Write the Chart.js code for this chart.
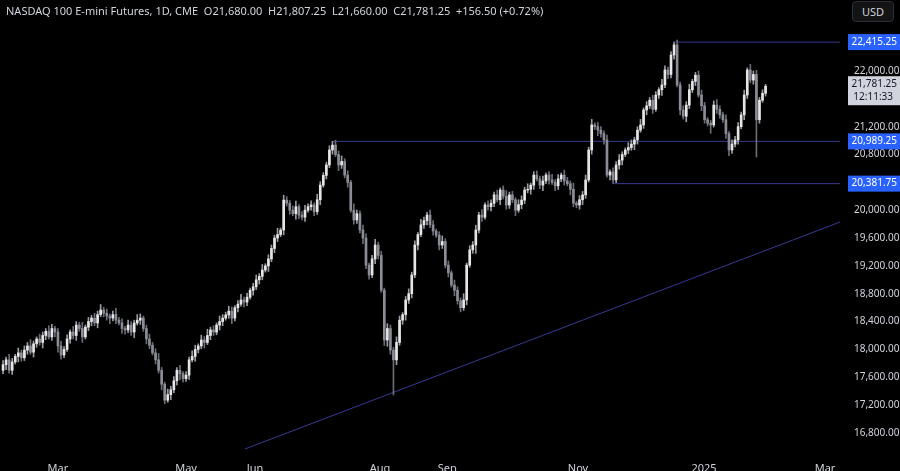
<!DOCTYPE html>
<html><head><meta charset="utf-8">
<script src="https://cdn.jsdelivr.net/npm/chart.js@4.4.1/dist/chart.umd.min.js"></script>
<style>html,body{margin:0;background:#000;overflow:hidden}#w{position:relative;width:900px;height:471px}
#t{position:absolute;left:6px;top:3px;color:#d1d4dc;font:11px "Noto Sans",sans-serif;white-space:pre}
#u{position:absolute;right:6px;top:1px;width:40px;height:19px;border:1px solid #2a2e39;border-radius:4px;background:#131313;color:#d1d4dc;font:11px "Noto Sans",sans-serif;text-align:center;line-height:19px}
</style></head><body><div id="w"><canvas id="c" style="width:900px;height:471px"></canvas>
<div id="t">NASDAQ 100 E-mini Futures, 1D, CME  O21,680.00  H21,807.25  L21,660.00  C21,781.25  +156.50 (+0.72%)</div><div id="u">USD</div></div>
<script>
const closes=[17780,17850,17700,17820,17900,17950,17880,17990,18050,17960,18080,18150,18100,18200,18260,18180,18300,18250,18050,17920,
18000,18150,18250,18200,18350,18300,18180,18320,18400,18450,18380,18500,18565,
18520,18480,18450,18500,18420,18380,18300,18280,18350,18250,18380,18420,
18450,18300,18150,18060,17950,17850,17700,17500,17270,17350,17420,17550,17700,17650,
17580,17630,17850,17900,18000,18050,18135,18100,18200,18280,18250,18350,18400,18450,
18495,18550,18450,18600,18650,18710,18680,18750,18850,18900,19000,19050,19140,19200,
19300,19450,19600,19650,19715,20145,20100,20000,19950,20050,19930,19900,20000,
20050,20075,19980,20150,20360,20500,20650,20865,20935,20800,20650,
20700,20505,20400,20000,19860,19950,19715,19600,19210,19070,19300,19500,19350,18850,18135,18300,17990,17850,
18100,18420,18500,18710,18800,19070,19500,19650,19790,19850,19930,19790,19700,19640,19500,19550,19210,19100,18925,18850,18700,
18600,18710,19210,19430,19500,19715,19930,19900,20075,20050,20100,20220,20150,20290,20200,20075,20220,
20150,20000,20080,20145,20290,20300,20360,20505,20450,20360,20420,20505,20435,20400,20350,20450,20505,20420,20380,20300,20100,
20075,20150,20220,20435,20865,21225,21200,21150,21100,21010,20505,20550,20435,
20650,20720,20800,20865,20900,20950,21010,21150,21225,21440,21500,21580,21450,21655,21730,21800,22015,21950,22230,22375,
21800,21440,21350,21510,21730,21850,21940,21655,21500,21300,21250,21225,21510,21450,21370,21300,21100,20865,20950,21010,
21200,21370,21655,22015,21870,21950,21300,21580,21680,21781.25];
const wickUp=[60,40,80,50,30,70,40,60,50,90,40,30,70,50,40,80,60,30,50,70,
40,60,30,80,50,40,90,30,60,40,70,50,80,40,60,30,50,90,40,60,
30,70,50,40,80,60,30,50,70,40,60,90,40,30,80,50,60,40,70,30,
50,40,80,60,30,70,50,90,40,60,30,80,50,40,70,60,30,50,80,40,
60,30,50,70,40,80,30,60,50,40,90,30,70,50,40,60,80,30,50,70,
40,60,30,80,50,40,40,60,55,70,50,80,40,60,30,90,50,40,70,60,
30,50,80,40,60,30,70,50,40,80,60,30,50,70,40,60,30,80,50,40,
70,60,30,50,80,40,60,30,70,50,40,90,30,60,50,70,40,80,30,60,
50,40,70,30,60,80,40,50,30,70,60,40,80,30,50,60,40,70,30,50,
80,40,60,30,70,50,40,90,30,60,50,70,40,80,30,60,50,40,70,30,
60,50,80,40,30,70,60,40,50,80,30,60,40,70,50,30,80,60,40,50,
40,70,40,60,50,80,30,40,60,70,50,30,40,60,80,50,40,70,30,60,
50,60,40,70,30,80,50,60,40,50,26];
const wickDn=[50,70,40,60,30,80,50,40,60,30,70,50,40,80,60,30,50,70,90,60,
40,30,60,50,70,40,80,30,50,60,40,70,30,50,60,80,40,50,30,70,
60,40,50,80,30,60,40,70,50,30,60,40,80,50,30,70,40,60,90,50,
40,60,30,70,50,40,80,30,60,50,40,70,60,30,50,80,40,60,30,70,
50,30,70,40,60,50,30,80,40,60,50,30,70,40,60,30,80,50,40,60,
30,50,60,40,70,30,50,40,60,30,80,50,40,70,30,60,50,40,80,50,
60,40,70,50,30,80,90,60,505,70,40,60,80,50,60,40,70,30,50,60,
40,60,30,70,50,40,60,30,80,50,60,40,70,30,50,120,40,60,30,50,
60,50,30,70,40,60,50,40,80,30,60,50,40,70,60,30,50,80,40,60,
30,70,50,40,60,30,80,50,40,60,70,50,30,60,40,80,50,60,30,70,
50,40,60,70,30,50,40,80,60,30,50,70,40,60,30,50,80,40,60,50,
60,30,70,40,80,50,40,60,30,70,50,40,120,30,60,50,40,70,80,50,
40,60,30,70,50,40,60,535,50,30,40];
const firstOpen=17700;
const levels=[22415.25,20989.25,20381.75];
const levelStart=[220,108,200];
const trend=[{x:79.3,y:16569},{x:274.4,y:19830}];
const yTicks=[16800,17200,17600,18000,18400,18800,19200,19600,20000,20800,21200,22000];
const xTickPos=[18,60,82.6,123.6,145.6,188.5,229.8,269.5];
const xTickLab=['Mar','May','Jun','Aug','Sep','Nov','2025','Mar'];
const XMIN=-1,XMAX=274.4;

const bodies=[],wicks=[],cols=[];
closes.forEach((c,i)=>{const o=i?closes[i-1]:firstOpen;const hi=Math.max(o,c),lo=Math.min(o,c);
 bodies.push({x:i,y:[lo,Math.max(hi,lo+8)]});wicks.push({x:i,y:[lo-wickDn[i],hi+wickUp[i]]});cols.push(c>=o?'#e6e6e6':'#8a8d96');});
const fmt=v=>v.toLocaleString('en-US',{minimumFractionDigits:2,maximumFractionDigits:2});
const lineCol='#363a8f';
const FONT='10px "Noto Sans",sans-serif';
const ds=[
 {type:'bar',data:wicks,backgroundColor:cols.map(c=>c==='#e6e6e6'?'#9a9ca3':'#6a6d76'),barThickness:1,grouped:false,order:2},
 {type:'bar',data:bodies,backgroundColor:cols,barThickness:2,grouped:false,order:1},
 {type:'line',data:trend,borderColor:lineCol,borderWidth:1,pointRadius:0,order:3}];
levels.forEach((l,k)=>ds.push({type:'line',data:[{x:levelStart[k],y:l},{x:XMAX,y:l}],borderColor:lineCol,borderWidth:1,pointRadius:0,order:3}));
const labelsPlugin={id:'lbl',afterDraw(ch){const g=ch.ctx,y=ch.scales.y,a=ch.chartArea;g.save();g.font=FONT;g.textAlign='right';g.textBaseline='middle';
 levels.forEach(l=>{const p=y.getPixelForValue(l);g.fillStyle='#2962ff';g.fillRect(a.right+8,p-8,52,16);g.fillStyle='#fff';g.fillText(fmt(l),897,p);});
 const c=closes[closes.length-1],p=y.getPixelForValue(c);g.fillStyle='#d1d4dc';g.fillRect(a.right+8,p-10,52,29);g.fillStyle='#131722';g.fillText(fmt(c),897,p-2);g.fillText('12:11:33',893,p+11);
 g.restore();}};
new Chart(document.getElementById('c'),{data:{datasets:ds},plugins:[labelsPlugin],options:{responsive:false,animation:false,devicePixelRatio:1,
 layout:{padding:0},plugins:{legend:{display:false},tooltip:{enabled:false}},
 scales:{x:{type:'linear',offset:false,min:XMIN,max:XMAX,grid:{display:false},border:{display:false},
   afterBuildTicks:s=>{s.ticks=xTickPos.map(v=>({value:v}));},afterFit:s=>{s.height=19;s.paddingLeft=0;s.paddingRight=0;},
   ticks:{color:'#d1d4dc',font:{size:11,family:'Noto Sans'},maxRotation:0,autoSkip:false,padding:2,callback:(v,i)=>xTickLab[i]}},
  y:{position:'right',min:16526,max:23020,grid:{display:false},border:{display:false},
   afterBuildTicks:s=>{s.ticks=yTicks.map(v=>({value:v}));},afterFit:s=>{s.width=60;s.paddingTop=0;s.paddingBottom=0;},
   ticks:{color:'#d1d4dc',font:{size:10,family:'Noto Sans'},padding:6,callback:v=>fmt(v)}}}}});
</script></body></html>
